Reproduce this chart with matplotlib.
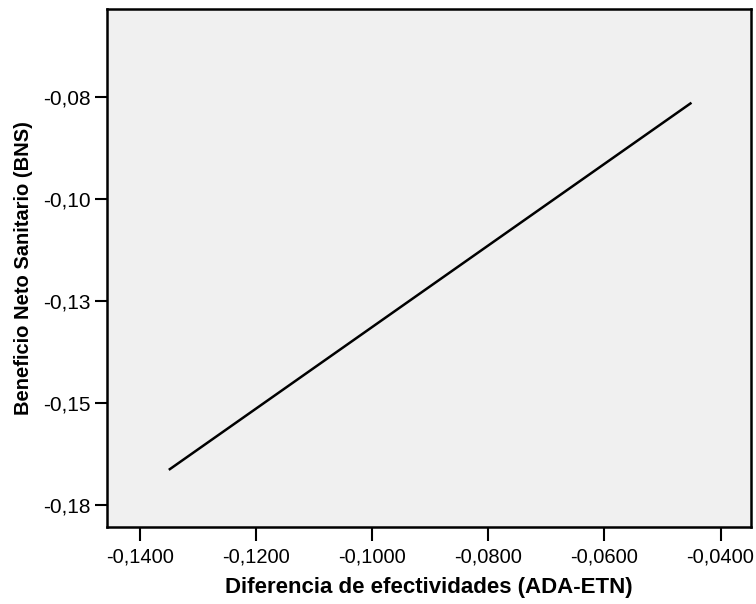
import matplotlib
matplotlib.use("Agg")
import matplotlib.pyplot as plt

plt.rcParams['font.family'] = ['Liberation Sans', 'DejaVu Sans']

diff_values = [-0.135, -0.045]
bns_values = [-0.1664, -0.0764]

x_ticks = [-0.14, -0.12, -0.10, -0.08, -0.06, -0.04]
x_tick_labels = ["-0,1400", "-0,1200", "-0,1000", "-0,0800", "-0,0600", "-0,0400"]
y_ticks = [-0.075, -0.100, -0.125, -0.150, -0.175]
y_tick_labels = ["-0,08", "-0,10", "-0,13", "-0,15", "-0,18"]

fig = plt.figure(figsize=(7.56, 6.04), dpi=100)
ax = fig.add_axes([0.1411, 0.1275, 0.993 - 0.1411, 0.9846 - 0.1275])
ax.set_facecolor('#f0f0f0')
ax.plot(diff_values, bns_values, color='black', linewidth=1.8, solid_capstyle='butt')

ax.set_xlim(-0.1457, -0.0348)
ax.set_ylim(-0.1804, -0.0535)
ax.set_xticks(x_ticks)
ax.set_xticklabels(x_tick_labels)
ax.set_yticks(y_ticks)
ax.set_yticklabels(y_tick_labels)
ax.tick_params(axis='x', direction='out', length=10, width=1.5, labelsize=14.5, pad=5, colors='black')
ax.tick_params(axis='y', direction='out', length=8.5, width=1.5, labelsize=15, pad=3, colors='black')
for s in ax.spines.values():
    s.set_linewidth(1.8)
    s.set_color('black')

ax.set_xlabel('Diferencia de efectividades (ADA-ETN)', fontsize=16, fontweight='bold', labelpad=7)
ax.set_ylabel('Beneficio Neto Sanitario (BNS)', fontsize=14.5, fontweight='bold', labelpad=7)

fig.savefig('out.png', dpi=100)
